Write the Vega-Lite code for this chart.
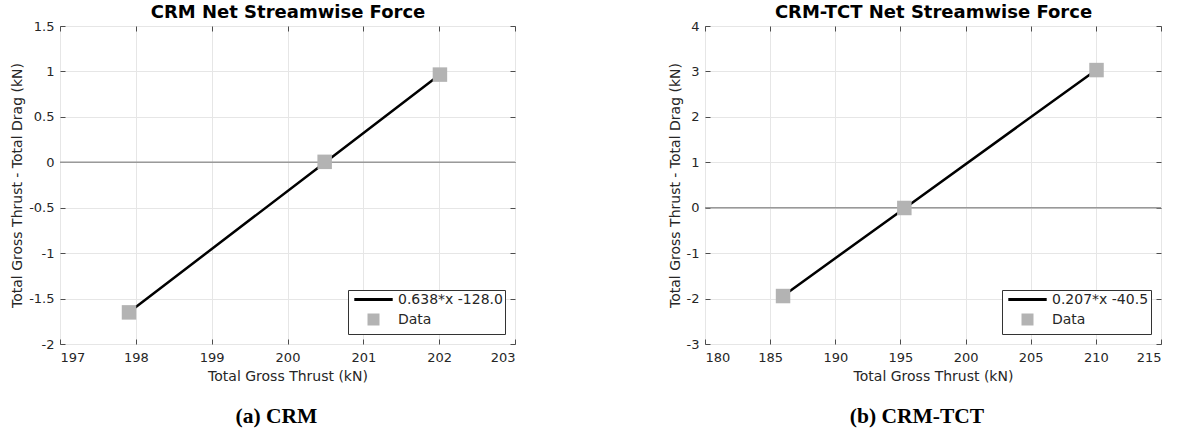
{
  "$schema": "https://vega.github.io/schema/vega-lite/v6.json",
  "padding": {"left": 10, "top": 3, "right": 5, "bottom": 5},
  "config": {
    "font": "DejaVu Sans",
    "view": {"stroke": "#4d4d4d", "strokeWidth": 1},
    "locale": {"number": {"decimal": ".", "thousands": ",", "grouping": [3], "currency": ["$", ""], "minus": "-"}},
    "axis": {
      "labelFont": "DejaVu Sans", "labelFontSize": 13, "labelColor": "#262626",
      "titleFont": "DejaVu Sans", "titleFontSize": 14, "titleFontWeight": "normal", "titleColor": "#262626",
      "tickColor": "#4d4d4d", "tickSize": -5, "domain": false, "gridColor": "#e6e6e6", "labelPadding": 12,
      "format": "~g"
    },
    "legend": {
      "labelFont": "DejaVu Sans", "labelFontSize": 14, "labelColor": "#262626"
    }
  },
  "resolve": {
    "scale": {"fill": "independent", "stroke": "independent", "shape": "independent"},
    "legend": {"fill": "independent", "stroke": "independent", "shape": "independent"}
  },
  "hconcat": [
    {
      "width": 455, "height": 318,
      "title": {"text": "(a) CRM", "orient": "bottom", "font": "Liberation Serif", "fontSize": 21.5, "fontWeight": "bold", "color": "black", "offset": 23, "dx": -11},
      "data": {"values": [
        {"thrust": 197.91, "net": -1.652, "fit": -1.650, "series": "Data"},
        {"thrust": 200.49, "net": 0.005, "fit": -0.005, "series": "Data"},
        {"thrust": 202.01, "net": 0.965, "fit": 0.965, "series": "Data"}
      ]},
      "resolve": {"axis": {"x": "independent", "y": "independent"}},
      "layer": [
        {
          "mark": {"type": "rule", "color": "#999999", "strokeWidth": 1},
          "encoding": {"y": {"datum": 0, "type": "quantitative", "scale": {"domain": [-2, 1.5], "nice": false, "zero": false}, "axis": null}}
        },
        {
          "mark": {"type": "line", "color": "black", "strokeWidth": 2.5},
          "encoding": {
            "x": {"field": "thrust", "type": "quantitative", "scale": {"domain": [197, 203], "nice": false, "zero": false},
                  "axis": {"orient": "bottom", "values": [197, 198, 199, 200, 201, 202, 203], "grid": true, "title": "Total Gross Thrust (kN)", "titlePadding": 5}},
            "y": {"field": "fit", "type": "quantitative", "scale": {"domain": [-2, 1.5], "nice": false, "zero": false},
                  "axis": {"orient": "left", "values": [-2, -1.5, -1, -0.5, 0, 0.5, 1, 1.5], "grid": true, "title": "Total Gross Thrust - Total Drag (kN)", "titlePadding": 4, "labelPadding": 11}}
          }
        },
        {
          "mark": {"type": "point", "size": 210, "opacity": 1, "strokeWidth": 0},
          "encoding": {
            "x": {"field": "thrust", "type": "quantitative",
                  "axis": {"orient": "top", "values": [197, 198, 199, 200, 201, 202, 203], "grid": false, "labels": false, "title": "CRM Net Streamwise Force", "titleFontWeight": "bold", "titleFontSize": 18, "titleColor": "black", "titlePadding": 4}},
            "y": {"field": "net", "type": "quantitative",
                  "axis": {"orient": "right", "values": [-2, -1.5, -1, -0.5, 0, 0.5, 1, 1.5], "grid": false, "labels": false, "title": null}},
            "fill": {"field": "series", "type": "nominal", "scale": {"domain": ["0.638*x -128.0", "Data"], "range": ["transparent", "#b3b3b3"]},
                     "legend": {"orient": "bottom-right", "offset": 10, "title": null, "fillColor": "white", "strokeColor": "#333333", "padding": 2, "symbolSize": 144, "labelOffset": 17, "symbolOffset": 16, "rowPadding": 0, "symbolStrokeWidth": 3, "symbolOpacity": 1}},
            "stroke": {"field": "series", "type": "nominal", "scale": {"domain": ["0.638*x -128.0", "Data"], "range": ["black", "transparent"]}},
            "shape": {"field": "series", "type": "nominal", "scale": {"domain": ["0.638*x -128.0", "Data"], "range": ["M-3.2,0H3.2", "square"]}}
          }
        }
      ]
    },
    {
      "width": 456, "height": 318,
      "title": {"text": "(b) CRM-TCT", "orient": "bottom", "font": "Liberation Serif", "fontSize": 21.5, "fontWeight": "bold", "color": "black", "offset": 23, "dx": -16},
      "data": {"values": [
        {"thrust": 185.99, "net": -1.944, "fit": -1.942, "series": "Data"},
        {"thrust": 195.3, "net": -0.006, "fit": -0.015, "series": "Data"},
        {"thrust": 210.05, "net": 3.03, "fit": 3.038, "series": "Data"}
      ]},
      "resolve": {"axis": {"x": "independent", "y": "independent"}},
      "layer": [
        {
          "mark": {"type": "rule", "color": "#999999", "strokeWidth": 1},
          "encoding": {"y": {"datum": 0, "type": "quantitative", "scale": {"domain": [-3, 4], "nice": false, "zero": false}, "axis": null}}
        },
        {
          "mark": {"type": "line", "color": "black", "strokeWidth": 2.5},
          "encoding": {
            "x": {"field": "thrust", "type": "quantitative", "scale": {"domain": [180, 215], "nice": false, "zero": false},
                  "axis": {"orient": "bottom", "values": [180, 185, 190, 195, 200, 205, 210, 215], "grid": true, "title": "Total Gross Thrust (kN)", "titlePadding": 5}},
            "y": {"field": "fit", "type": "quantitative", "scale": {"domain": [-3, 4], "nice": false, "zero": false},
                  "axis": {"orient": "left", "values": [-3, -2, -1, 0, 1, 2, 3, 4], "grid": true, "title": "Total Gross Thrust - Total Drag (kN)", "titlePadding": 4, "labelPadding": 11}}
          }
        },
        {
          "mark": {"type": "point", "size": 210, "opacity": 1, "strokeWidth": 0},
          "encoding": {
            "x": {"field": "thrust", "type": "quantitative",
                  "axis": {"orient": "top", "values": [180, 185, 190, 195, 200, 205, 210, 215], "grid": false, "labels": false, "title": "CRM-TCT Net Streamwise Force", "titleFontWeight": "bold", "titleFontSize": 18, "titleColor": "black", "titlePadding": 4}},
            "y": {"field": "net", "type": "quantitative",
                  "axis": {"orient": "right", "values": [-3, -2, -1, 0, 1, 2, 3, 4], "grid": false, "labels": false, "title": null}},
            "fill": {"field": "series", "type": "nominal", "scale": {"domain": ["0.207*x -40.5", "Data"], "range": ["transparent", "#b3b3b3"]},
                     "legend": {"orient": "bottom-right", "offset": 10, "title": null, "fillColor": "white", "strokeColor": "#333333", "padding": 2, "symbolSize": 144, "labelOffset": 17, "symbolOffset": 16, "rowPadding": 0, "symbolStrokeWidth": 3, "symbolOpacity": 1}},
            "stroke": {"field": "series", "type": "nominal", "scale": {"domain": ["0.207*x -40.5", "Data"], "range": ["black", "transparent"]}},
            "shape": {"field": "series", "type": "nominal", "scale": {"domain": ["0.207*x -40.5", "Data"], "range": ["M-3.2,0H3.2", "square"]}}
          }
        }
      ]
    }
  ],
  "spacing": 190,
  "bounds": "flush"
}
